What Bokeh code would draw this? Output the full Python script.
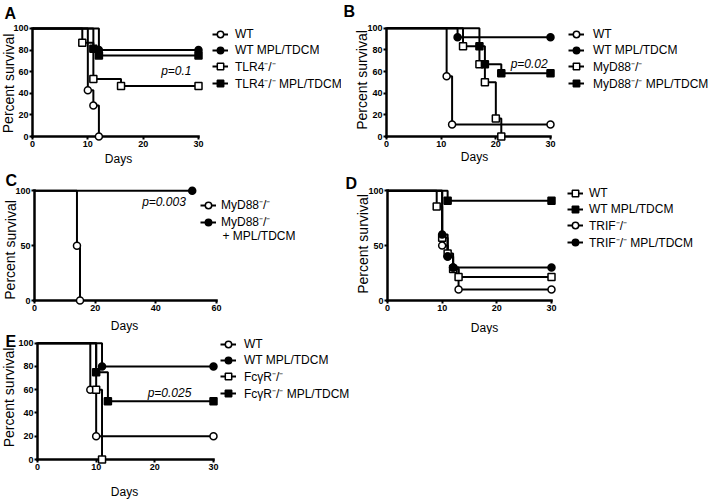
from bokeh.plotting import figure
from bokeh.models import Range1d, FixedTicker, Legend, LegendItem
from bokeh.core.properties import value
from bokeh.layouts import column, row
from bokeh.embed import file_html
from bokeh.resources import INLINE

FONT = "Liberation Sans"

# ---------------- data ----------------
# Panel A
a_wt_days = [0, 10, 11, 12]
a_wt_surv = [100, 42.9, 28.6, 0]
a_wtmpl_days = [0, 12, 30]
a_wtmpl_surv = [100, 80, 80]
a_tlr4_days = [0, 9, 11, 16, 30]
a_tlr4_surv = [100, 86.7, 53.3, 46.7, 46.7]
a_tlr4mpl_days = [0, 11, 12, 30]
a_tlr4mpl_surv = [100, 81.3, 75, 75]
a_labels = ["WT", "WT MPL/TDCM", "TLR4⁻/⁻", "TLR4⁻/⁻ MPL/TDCM"]
a_xticks = [0, 10, 20, 30]
a_yticks = [0, 20, 40, 60, 80, 100]
a_pval = "p=0.1"

# Panel B
b_wt_days = [0, 11, 12, 30]
b_wt_surv = [100, 55.6, 11.1, 11.1]
b_wtmpl_days = [0, 13, 30]
b_wtmpl_surv = [100, 91.7, 91.7]
b_myd_days = [0, 14, 17, 18, 20, 21]
b_myd_surv = [100, 83.3, 66.7, 50, 16.7, 0]
b_mydmpl_days = [0, 17, 18, 21, 30]
b_mydmpl_surv = [100, 83.3, 66.7, 58.3, 58.3]
b_labels = ["WT", "WT MPL/TDCM", "MyD88⁻/⁻", "MyD88⁻/⁻ MPL/TDCM"]
b_xticks = [0, 10, 20, 30]
b_yticks = [0, 20, 40, 60, 80, 100]
b_pval = "p=0.02"

# Panel C
c_myd_days = [0, 14, 15]
c_myd_surv = [100, 50, 0]
c_mydmpl_days = [0, 52]
c_mydmpl_surv = [100, 100]
c_labels = ["MyD88⁻/⁻", "MyD88⁻/⁻"]
c_label_extra = "+ MPL/TDCM"
c_xticks = [0, 20, 40, 60]
c_yticks = [0, 50, 100]
c_pval = "p=0.003"

# Panel D
d_wt_days = [0, 9, 10, 11, 12, 13, 30]
d_wt_surv = [100, 85.7, 57.1, 42.9, 28.6, 21.4, 21.4]
d_wtmpl_days = [0, 11, 30]
d_wtmpl_surv = [100, 90.9, 90.9]
d_trif_days = [0, 10, 11, 12, 13, 30]
d_trif_surv = [100, 50, 40, 30, 10, 10]
d_trifmpl_days = [0, 10, 11, 12, 30]
d_trifmpl_surv = [100, 60, 40, 30, 30]
d_labels = ["WT", "WT MPL/TDCM", "TRIF⁻/⁻", "TRIF⁻/⁻ MPL/TDCM"]
d_xticks = [0, 10, 20, 30]
d_yticks = [0, 50, 100]

# Panel E
e_wt_days = [0, 9, 10, 30]
e_wt_surv = [100, 60, 20, 20]
e_wtmpl_days = [0, 11, 30]
e_wtmpl_surv = [100, 80, 80]
e_fcgr_days = [0, 10, 11]
e_fcgr_surv = [100, 60, 0]
e_fcgrmpl_days = [0, 10, 12, 30]
e_fcgrmpl_surv = [100, 75, 50, 50]
e_labels = ["WT", "WT MPL/TDCM", "FcγR⁻/⁻", "FcγR⁻/⁻ MPL/TDCM"]
e_xticks = [0, 10, 20, 30]
e_yticks = [0, 20, 40, 60, 80, 100]
e_pval = "p=0.025"

X_LABEL = "Days"
Y_LABEL = "Percent survival"


def build(geom, series, labels, xticks, yticks, leg, xlab_px, ylab_px,
          letter, letter_px, pval=None, pval_pos=None, extra=None):
    # geom: fig_x, fig_y, W, H, x0_px, xtick_max_px, y0_px, y100_px, frame_top_px  (page pixels)
    fx, fy, W, H, x0, xm, y0, y100, ft = geom
    xmax = xticks[-1]
    sx = (xm - x0) / xmax
    sy = (y0 - y100) / 100.0
    fr = fx + W
    x_end = (fr - x0) / sx
    y_end = (y0 - ft) / sy
    p = figure(width=W, height=H, x_range=Range1d(0, x_end), y_range=Range1d(0, y_end),
               output_backend="svg", toolbar_location=None,
               min_border_left=int(x0 - fx), min_border_right=0,
               min_border_top=int(ft - fy), min_border_bottom=int(fy + H - y0))
    p.outline_line_color = None
    p.xgrid.visible = False
    p.ygrid.visible = False

    def dx(px):
        return (px - x0) / sx

    def dy(py):
        return (y0 - py) / sy

    for ax, ticks, bnd in ((p.xaxis[0], xticks, (0, xmax)), (p.yaxis[0], yticks, (0, 100))):
        ax.ticker = FixedTicker(ticks=ticks, minor_ticks=[])
        ax.bounds = bnd
        ax.axis_line_width = 2.5
        ax.axis_line_cap = "square"
        ax.axis_line_color = "black"
        ax.major_tick_line_width = 2
        ax.major_tick_line_color = "black"
        ax.major_tick_out = 3
        ax.major_tick_in = 0
        ax.minor_tick_line_color = None
        ax.major_label_text_font = FONT
        ax.major_label_text_font_size = "9px"
        ax.major_label_text_font_style = "bold"
        ax.major_label_text_color = "black"
        ax.major_label_standoff = 1

    items = []
    for (days, surv, marker, filled), lab in zip(series, labels):
        lr = p.step(days, surv, mode="after", line_color="black", line_width=2)
        sr = p.scatter(days[1:], surv[1:], marker=marker, size=7,
                       fill_color="black" if filled else "white",
                       line_color="black", line_width=1.5, level="overlay")
        items.append(LegendItem(label=lab, renderers=[lr, sr]))

    lx, ly, lstand, lspacing = leg
    legend = Legend(items=items, location=(lx - x0, y0 - ly), glyph_width=16, glyph_height=16,
                    label_height=16, spacing=lspacing, padding=0, margin=0,
                    label_standoff=lstand, border_line_color=None, background_fill_alpha=0,
                    label_text_font=FONT, label_text_font_size="12px",
                    label_text_color="black", level="overlay")
    p.add_layout(legend)

    def txt(x, y, text, size, align="center", style="normal", angle=0.0):
        p.text(x=[x], y=[y], text=[text], text_font=value(FONT), text_font_size=value(size),
               text_font_style=value(style), text_align=value(align),
               text_baseline=value("middle"), angle=angle, text_color="black",
               level="overlay")

    # axis titles
    txt(dx(xlab_px[0]), dy(xlab_px[1]), X_LABEL, "12px")
    txt(dx(ylab_px[0]), dy(ylab_px[1]), Y_LABEL, "14px", angle=1.5707963)

    if pval is not None:
        txt(pval_pos[0], pval_pos[1], pval, "12px", style="italic")
    if extra is not None:
        etext, ex, ey = extra
        txt(dx(ex), dy(ey), etext, "12px", align="left")

    txt(dx(letter_px[0]), dy(letter_px[1]), letter, "16px", align="left", style="bold")
    return p


LW, RW = 341, 367

pA = build((0, 0, LW, 168, 32, 198, 136, 26, 22),
           [(a_wt_days, a_wt_surv, "circle", False),
            (a_wtmpl_days, a_wtmpl_surv, "circle", True),
            (a_tlr4_days, a_tlr4_surv, "square", False),
            (a_tlr4mpl_days, a_tlr4mpl_surv, "square", True)],
           a_labels, a_xticks, a_yticks, (212, 91.5, 7, -2), (118, 159), (8, 82),
           "A", (4, 11), a_pval, (26, 61))

pB = build((LW, 0, RW, 168, 386, 550, 137, 27.7, 24),
           [(b_wt_days, b_wt_surv, "circle", False),
            (b_wtmpl_days, b_wtmpl_surv, "circle", True),
            (b_myd_days, b_myd_surv, "square", False),
            (b_mydmpl_days, b_mydmpl_surv, "square", True)],
           b_labels, b_xticks, b_yticks, (568, 92.5, 9, -2), (474, 157.5), (361, 80),
           "B", (343, 11), b_pval, (26.1, 66.5))

pC = build((0, 168, LW, 166, 34, 216, 301, 190.3, 186),
           [(c_myd_days, c_myd_surv, "circle", False),
            (c_mydmpl_days, c_mydmpl_surv, "circle", True)],
           c_labels, c_xticks, c_yticks, (200, 231, 5, 0), (124, 327), (10, 250),
           "C", (5, 180), c_pval, (42.7, 89.7), extra=(c_label_extra, 222, 236))

pD = build((LW, 168, RW, 166, 387, 551, 300, 187.3, 183),
           [(d_wt_days, d_wt_surv, "square", False),
            (d_wtmpl_days, d_wtmpl_surv, "square", True),
            (d_trif_days, d_trif_surv, "circle", False),
            (d_trifmpl_days, d_trifmpl_surv, "circle", True)],
           d_labels, d_xticks, d_yticks, (567, 250.5, 6, -2), (484, 328), (362, 242),
           "D", (345, 180))

pE = build((0, 334, 708, 165, 37, 213, 459, 342.7, 335),
           [(e_wt_days, e_wt_surv, "circle", False),
            (e_wtmpl_days, e_wtmpl_surv, "circle", True),
            (e_fcgr_days, e_fcgr_surv, "square", False),
            (e_fcgrmpl_days, e_fcgrmpl_surv, "square", True)],
           e_labels, e_xticks, e_yticks, (220, 401.5, 8, -2), (124, 491), (8.5, 397),
           "E", (5, 341), e_pval, (22.5, 57))

layout = column(row(pA, pB), row(pC, pD), pE)
open("out.html", "w").write(file_html(layout, INLINE))
